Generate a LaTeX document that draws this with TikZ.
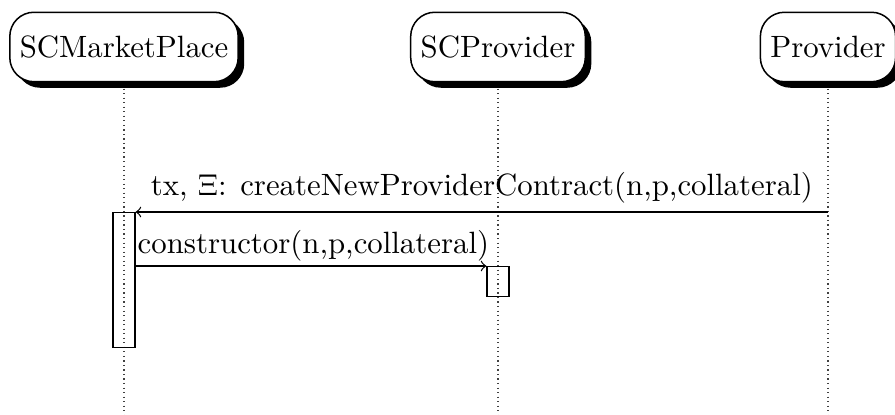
\documentclass[tikz,border=0pt]{standalone}
\usetikzlibrary{shadows}
\begin{document}
\begin{tikzpicture}[x=0.3311pt, y=-0.3311pt,
  every node/.style={font=\fontsize{10.2}{12.2}\selectfont},
  thread/.style={draw, fill=white, rounded corners=8pt, minimum height=23pt,
    inner xsep=3.3pt, line width=0.5pt,
    drop shadow={shadow xshift=2pt, shadow yshift=-2pt, fill=black, opacity=1}},
  lifeline/.style={line width=0.4pt, black!75, dash pattern=on 0.4pt off 1.1pt},
  callbox/.style={draw, rectangle, inner sep=0pt, minimum width=7.3pt, anchor=north, line width=0.4pt},
  msg/.style={->, line width=0.4pt}]
\useasboundingbox (0,0) rectangle (895,415);

% participants
\node[thread] (mp) at (124,47) {SCMarketPlace};
\node[thread] (scp) at (498,47) {SCProvider};
\node[thread] (pv) at (828,47) {Provider};

% lifelines
\coordinate (mpEnd) at (124,415);
\coordinate (scpEnd) at (498,415);
\coordinate (pvEnd) at (828,415);
\draw[lifeline] ([yshift=-2pt]mp.south) -- (mpEnd);
\draw[lifeline] ([yshift=-2pt]scp.south) -- (scpEnd);
\draw[lifeline] ([yshift=-2pt]pv.south) -- (pvEnd);

% activations
\node[callbox, minimum height=44.7pt] (actA) at (124,212) {};
\node[callbox, minimum height=9.9pt] (actB) at (498,266) {};

% calls
\coordinate (pvCall) at (pv.south |- actA.north);
\draw[msg] (pvCall) -- (actA.north east)
  node[pos=0.5, anchor=base, yshift=5.3pt] {tx, $\Xi$: createNewProviderContract(n,p,collateral)};
\coordinate (mpCall) at (actA.east |- actB.north);
\draw[msg] (mpCall) -- (actB.north west)
  node[pos=0, anchor=base west, yshift=4.3pt, xshift=0.5pt, inner xsep=0pt] {constructor(n,p,collateral)};
\end{tikzpicture}
\end{document}
